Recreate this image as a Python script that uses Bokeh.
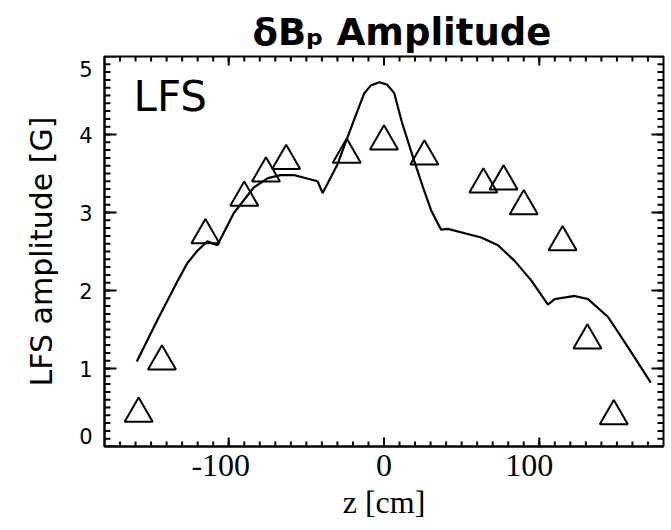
from bokeh.plotting import figure
from bokeh.models import Range1d, FixedTicker, LinearAxis, Label, Title
from bokeh.embed import file_html
from bokeh.resources import INLINE

# Model curve (z in cm, amplitude in G)
z_curve = [-159.2, -146.0, -132.7, -126.7, -120.2, -113.7, -107.3, -96.8, -83.9, -74.8,
           -66.5, -58.1, -42.8, -39.5, -29.9, -23.4, -19.4, -12.7, -8.4, -3.0,
           1.9, 6.6, 11.5, 18.5, 25.0, 30.3, 36.8, 41.1, 62.6, 73.4,
           84.1, 94.8, 105.6, 109.9, 122.8, 131.4, 144.3, 157.2, 171.8]
amp_curve = [1.09, 1.62, 2.13, 2.35, 2.51, 2.63, 2.58, 2.99, 3.32, 3.44,
             3.48, 3.48, 3.40, 3.25, 3.62, 3.97, 4.18, 4.53, 4.63, 4.67,
             4.64, 4.53, 4.16, 3.72, 3.33, 3.03, 2.78, 2.79, 2.68, 2.58,
             2.38, 2.13, 1.82, 1.89, 1.93, 1.89, 1.66, 1.27, 0.82]

# Measured amplitudes (triangles)
z_meas = [-158, -143, -115, -90, -76, -63, -24, 0, 26, 64, 77, 90, 115, 131, 148]
amp_meas = [0.42, 1.09, 2.71, 3.19, 3.50, 3.66, 3.74, 3.91, 3.72, 3.36, 3.40, 3.08, 2.62, 1.36, 0.39]

x_major = [-100, 0, 100]
x_labels = ["-100", "0", "100"]
x_minor = list(range(-170, 180, 10))
y_major = [0, 1, 2, 3, 4, 5]
y_labels = ["0", "1", "2", "3", "4", "5"]
y_minor = [i / 10 for i in range(1, 50)]

X0, X1 = -180, 180
Y0, Y1 = 0, 5

W, H = 671, 530
BL, BR, BT, BB = 104, 8, 56, 84
px_x = (W - BL - BR) / (X1 - X0)   # pixels per cm
px_y = (H - BT - BB) / (Y1 - Y0)   # pixels per G

p = figure(width=W, height=H, output_backend="svg", toolbar_location=None,
           x_range=Range1d(X0, X1), y_range=Range1d(Y0, Y1),
           x_axis_location=None, y_axis_location=None,
           min_border_left=BL, min_border_right=BR, min_border_top=BT, min_border_bottom=BB)
p.background_fill_color = "white"
p.border_fill_color = "white"
p.outline_line_color = "black"
p.outline_line_width = 2
p.xgrid.visible = False
p.ygrid.visible = False


def plain_axis(ax):
    ax.axis_line_color = "black"
    ax.axis_line_width = 2
    ax.major_tick_in = 0
    ax.major_tick_out = 0
    ax.minor_tick_in = 0
    ax.minor_tick_out = 0
    ax.major_tick_line_color = None
    ax.minor_tick_line_color = None


# label anchors nudged (in pixels) the way the original places its end labels
x_nudge_px = [-8, 0, -10]
y_nudge_px = [11, 0, 0, 0, 0, -12]
x_label_pos = [round(t + d / px_x, 2) for t, d in zip(x_major, x_nudge_px)]
y_label_pos = [round(t + d / px_y, 3) for t, d in zip(y_major, y_nudge_px)]

xb = LinearAxis(ticker=FixedTicker(ticks=x_label_pos), axis_label="z [cm]",
                major_label_overrides=dict(zip(x_label_pos, x_labels)))
plain_axis(xb)
xb.major_label_text_font = "Liberation Serif"
xb.major_label_text_font_size = "32px"
xb.major_label_text_color = "black"
xb.major_label_standoff = 8
xb.axis_label_text_font = "Liberation Serif"
xb.axis_label_text_font_size = "32px"
xb.axis_label_text_font_style = "normal"
xb.axis_label_text_color = "black"
xb.axis_label_standoff = 5
p.add_layout(xb, "below")

yl = LinearAxis(ticker=FixedTicker(ticks=y_label_pos), axis_label="LFS amplitude [G]",
                major_label_overrides=dict(zip(y_label_pos, y_labels)))
plain_axis(yl)
yl.major_label_text_font = "DejaVu Sans"
yl.major_label_text_font_size = "21px"
yl.major_label_text_color = "black"
yl.major_label_standoff = 12
yl.axis_label_text_font = "DejaVu Sans"
yl.axis_label_text_font_size = "30px"
yl.axis_label_text_font_style = "normal"
yl.axis_label_text_color = "black"
yl.axis_label_standoff = 17
p.add_layout(yl, "left")

# inward ticks on all four sides
tick_kw = dict(line_color="black", line_width=2)
xmaj_len, xmin_len = 9 / px_y, 5 / px_y      # vertical ticks, length in G
ymaj_len, ymin_len = 12 / px_x, 6 / px_x     # horizontal ticks, length in cm
for xs, ln in ((x_major, xmaj_len), (x_minor, xmin_len)):
    p.segment(x0=xs, y0=[Y0] * len(xs), x1=xs, y1=[Y0 + ln] * len(xs), **tick_kw)
    p.segment(x0=xs, y0=[Y1] * len(xs), x1=xs, y1=[Y1 - ln] * len(xs), **tick_kw)
for ys, ln in ((y_major, ymaj_len), (y_minor, ymin_len)):
    p.segment(x0=[X0] * len(ys), y0=ys, x1=[X0 + ln] * len(ys), y1=ys, **tick_kw)
    p.segment(x0=[X1] * len(ys), y0=ys, x1=[X1 - ln] * len(ys), y1=ys, **tick_kw)

p.line(z_curve, amp_curve, line_color="black", line_width=2.2)
p.scatter(z_meas, amp_meas, marker="triangle", size=28, fill_color=None,
          line_color="black", line_width=2)

p.add_layout(Label(x=29, y=350, x_units="screen", y_units="screen", text="LFS",
                   text_font="DejaVu Sans", text_font_size="42px", text_color="black",
                   text_baseline="alphabetic"))

p.add_layout(Title(text="δBₚ Amplitude", align="left", offset=148, standoff=5,
                   text_font="DejaVu Sans", text_font_size="37px", text_font_style="bold",
                   text_color="black"), "above")

open("out.html", "w").write(file_html(p, INLINE))
